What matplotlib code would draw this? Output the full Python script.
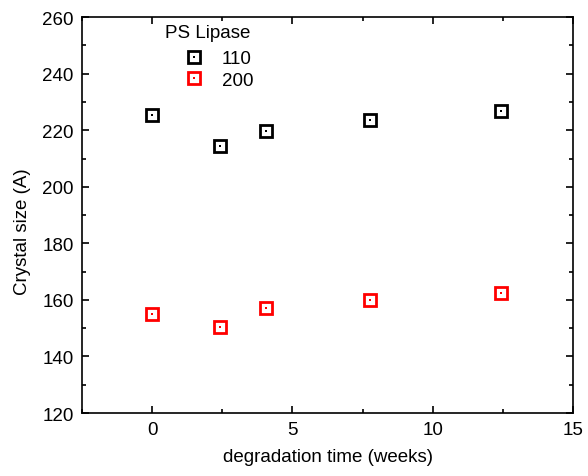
import matplotlib
matplotlib.use("Agg")
import matplotlib.pyplot as plt
from matplotlib.ticker import MultipleLocator
from matplotlib.legend_handler import HandlerTuple

plt.rcParams['font.family'] = ['Liberation Sans', 'DejaVu Sans']

# degradation time (weeks)
weeks = [0, 2.43, 4.05, 7.75, 12.45]
# crystal size for the two reflections
size_110 = [225.5, 214.5, 219.6, 223.7, 226.9]
size_200 = [155.1, 150.4, 157.1, 159.8, 162.6]

fig = plt.figure(figsize=(5.88, 4.77), dpi=100)
ax = fig.add_axes([0.1395, 0.132, 0.835, 0.83])

h = []
for y, c in [(size_110, 'black'), (size_200, 'red')]:
    sq, = ax.plot(weeks, y, 's', ms=8, mfc='none', mec=c, mew=2, ls='none')
    dt, = ax.plot(weeks, y, 's', ms=2, mfc=c, mec=c, mew=0, ls='none')
    h.append((sq, dt))

ax.set_xlim(-2.5, 15)
ax.set_ylim(120, 260)
ax.xaxis.set_major_locator(MultipleLocator(5))
ax.xaxis.set_minor_locator(MultipleLocator(2.5))
ax.yaxis.set_major_locator(MultipleLocator(20))
ax.yaxis.set_minor_locator(MultipleLocator(10))
ax.tick_params(which='both', direction='in', top=True, right=True,
               labelsize=13.5, width=1.2)
ax.tick_params(which='major', length=5, pad=6)
ax.tick_params(which='minor', length=3)
for s in ax.spines.values():
    s.set_linewidth(1.2)

ax.set_xlabel("degradation time (weeks)", fontsize=13.5, labelpad=7)
ax.set_ylabel("Crystal size (A)", fontsize=13.5)
ax.yaxis.set_label_coords(-0.103, 0.461)

# legend title drawn separately so it sits left of the symbols, like Origin
ax.text(0.169, 0.96, "PS Lipase", transform=ax.transAxes,
        fontsize=13.5, ha='left', va='center')
leg = ax.legend(h, ['110', '200'], frameon=False,
                handler_map={tuple: HandlerTuple(ndivide=1, pad=0)},
                loc='upper left', bbox_to_anchor=(0.174, 0.955),
                fontsize=13.5, handlelength=1.2,
                handletextpad=0.9, labelspacing=0.25, borderpad=0.3)

fig.savefig("out.png", dpi=100)
